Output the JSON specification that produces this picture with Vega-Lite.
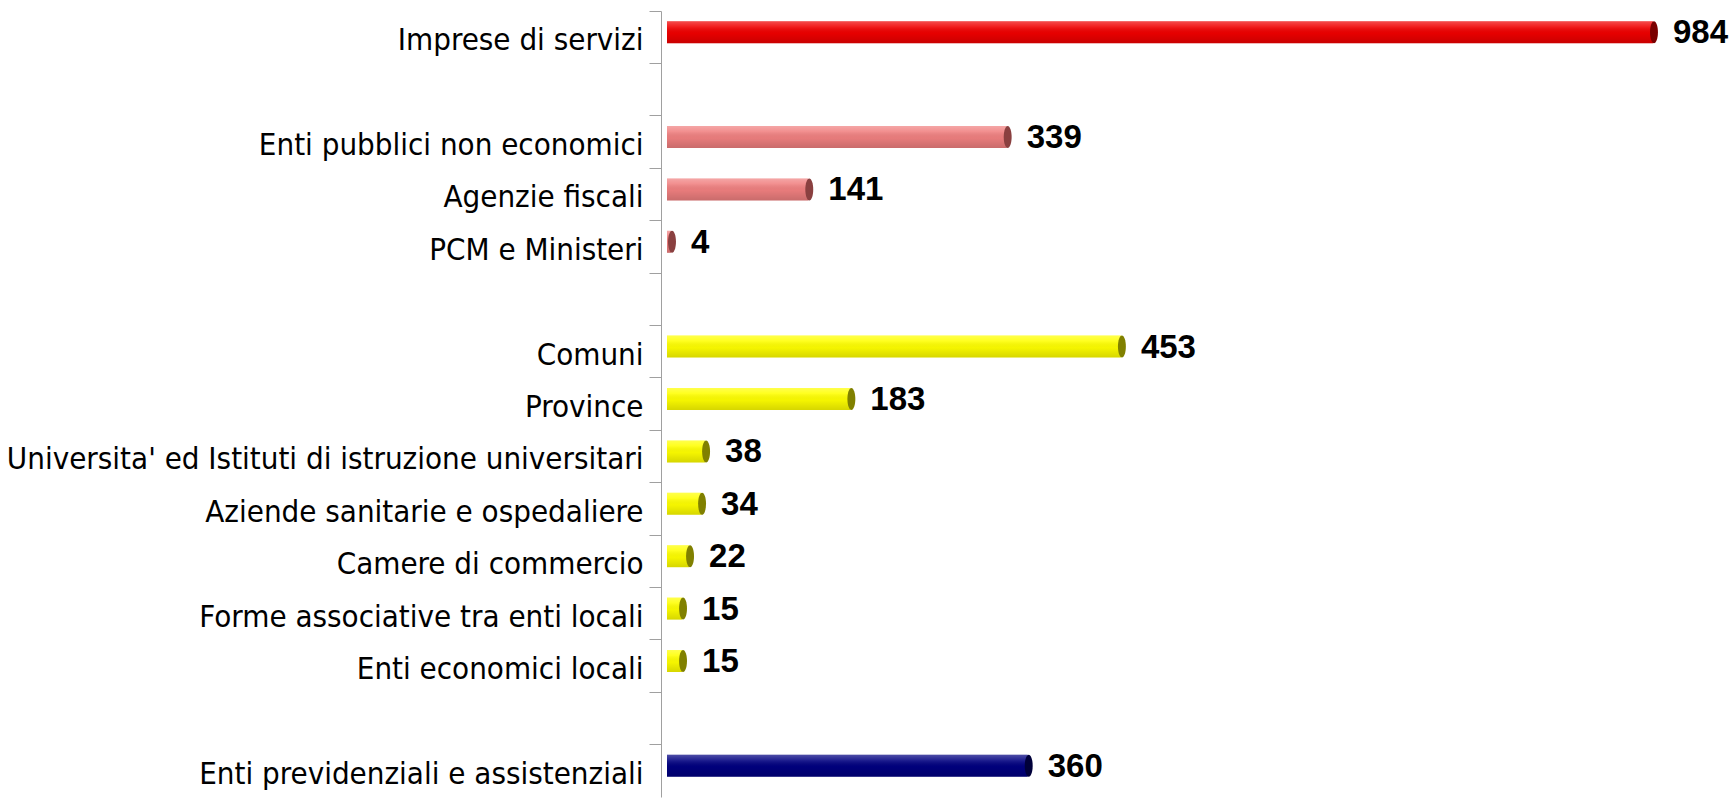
{
  "$schema": "https://vega.github.io/schema/vega-lite/v6.json",
  "autosize": {"type": "none"},
  "width": 1002,
  "height": 786,
  "padding": {"left": 661, "top": 11, "right": 66, "bottom": 4},
  "background": "white",
  "config": {"view": {"stroke": null}},
  "data": {"values": [
    {"cat": "Imprese di servizi", "value": 984, "g": "imprese"},
    {"cat": "Enti pubblici non economici", "value": 339, "g": "centrali"},
    {"cat": "Agenzie fiscali", "value": 141, "g": "centrali"},
    {"cat": "PCM e Ministeri", "value": 4, "g": "centrali"},
    {"cat": "Comuni", "value": 453, "g": "locali"},
    {"cat": "Province", "value": 183, "g": "locali"},
    {"cat": "Universita' ed Istituti di istruzione universitari", "value": 38, "g": "locali"},
    {"cat": "Aziende sanitarie e ospedaliere", "value": 34, "g": "locali"},
    {"cat": "Camere di commercio", "value": 22, "g": "locali"},
    {"cat": "Forme associative tra enti locali", "value": 15, "g": "locali"},
    {"cat": "Enti economici locali", "value": 15, "g": "locali"},
    {"cat": "Enti previdenziali e assistenziali", "value": 360, "g": "previdenza"}
  ]},
  "encoding": {
    "y": {
      "field": "cat", "type": "nominal",
      "scale": {
        "domain": ["Imprese di servizi", " ", "Enti pubblici non economici", "Agenzie fiscali", "PCM e Ministeri", "  ", "Comuni", "Province", "Universita' ed Istituti di istruzione universitari", "Aziende sanitarie e ospedaliere", "Camere di commercio", "Forme associative tra enti locali", "Enti economici locali", "   ", "Enti previdenziali e assistenziali"],
        "paddingInner": 0, "paddingOuter": 0
      },
      "axis": {
        "title": null,
        "bandPosition": 0,
        "domainColor": "#a0a0a0",
        "domainWidth": 1,
        "tickColor": "#a0a0a0",
        "tickSize": 12,
        "tickWidth": 1,
        "labelFont": "'DejaVu Sans Condensed', 'Liberation Sans', sans-serif",
        "labelFontSize": 31,
        "labelColor": "#000000",
        "labelPadding": 6,
        "labelOffset": 4,
        "labelLimit": 0
      }
    },
    "x": {
      "field": "value", "type": "quantitative",
      "scale": {"domain": [0, 1000], "nice": false, "zero": true},
      "axis": null
    }
  },
  "layer": [
    {
      "mark": {"type": "bar", "size": 22, "yOffset": -5, "xOffset": 6, "x2Offset": 11},
      "encoding": {
        "color": {
          "field": "g", "type": "nominal", "legend": null,
          "scale": {"domain": ["imprese", "centrali", "locali", "previdenza"], "range": ["#f00000", "#f08080", "#ffff00", "#000080"]}
        }
      }
    },
    {
      "mark": {
        "type": "bar", "size": 22, "yOffset": -5, "xOffset": 6, "x2Offset": 11,
        "color": {"gradient": "linear", "x1": 0, "y1": 0, "x2": 0, "y2": 1,
          "stops": [
            {"offset": 0, "color": "rgba(255,255,255,0.3)"},
            {"offset": 0.25, "color": "rgba(255,255,255,0.12)"},
            {"offset": 0.55, "color": "rgba(0,0,0,0.04)"},
            {"offset": 1, "color": "rgba(0,0,0,0.16)"}
          ]}
      },
      "encoding": {}
    },
    {
      "mark": {"type": "point", "shape": "M0,-1A0.36,1,0,1,1,0,1A0.36,1,0,1,1,0,-1Z", "size": 484, "filled": true, "opacity": 1, "strokeWidth": 0, "yOffset": -5, "xOffset": 7},
      "encoding": {
        "color": {
          "field": "g", "type": "nominal", "legend": null,
          "scale": {"domain": ["imprese", "centrali", "locali", "previdenza"], "range": ["#7a0000", "#8a4040", "#808000", "#00003a"]}
        }
      }
    },
    {
      "mark": {"type": "text", "align": "left", "baseline": "middle", "dx": 26, "yOffset": -4, "font": "Liberation Sans", "fontWeight": "bold", "fontSize": 33, "color": "#000000"},
      "encoding": {"text": {"field": "value", "type": "quantitative"}}
    }
  ],
  "resolve": {"scale": {"color": "independent"}}
}
